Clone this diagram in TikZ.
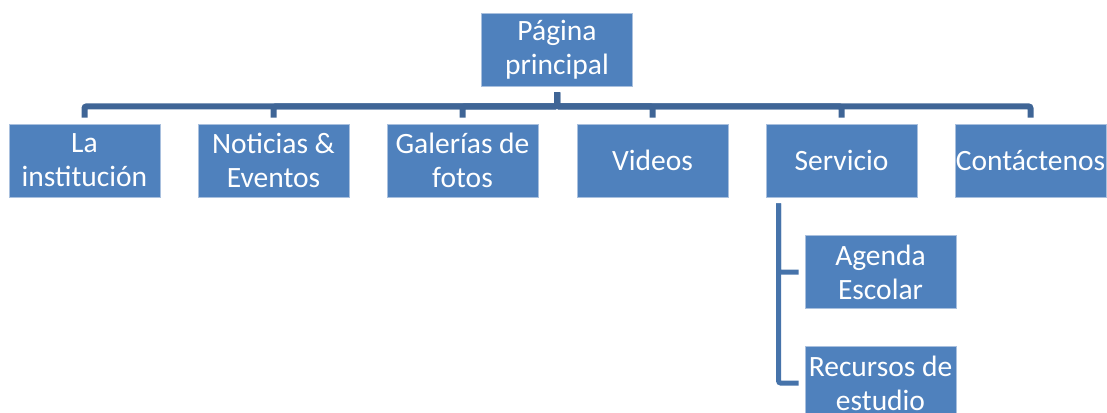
\documentclass[tikz,border=0pt]{standalone}
\usepackage{fontspec}
\setmainfont{Carlito}
\definecolor{boxblue}{HTML}{4F81BD}
\definecolor{boxline}{HTML}{A9C0DE}
\definecolor{busblue}{HTML}{3F6596}
\definecolor{subblue}{HTML}{4673AA}
\tikzset{
  pbox/.style={draw=boxline, line width=0.8pt, fill=boxblue, text=white,
    minimum width=151pt, minimum height=73pt, inner sep=0pt,
    align=center, font=\fontsize{29.5}{34}\selectfont},
  conn/.style={draw=busblue, line width=6pt, rounded corners=2pt,
    shorten <=6pt, shorten >=6pt},
  subconn/.style={draw=subblue, line width=5pt, rounded corners=2pt,
    shorten <=6pt, shorten >=6pt}
}
\begin{document}
\begin{tikzpicture}[x=1pt,y=-1pt]
\useasboundingbox (0,0) rectangle (1107,412);
\clip (0,0) rectangle (1107,412);
\node[pbox] (top) at (557,49.5) {Página\\principal};
\node[pbox] (c1) at (84.5,160.5) {La\\institución};
\node[pbox] (c2) at (273.5,160.5) {Noticias \&\\Eventos};
\node[pbox] (c3) at (462.5,160.5) {Galerías de\\fotos};
\node[pbox] (c4) at (652.5,160.5) {Videos};
\node[pbox] (c5) at (841.5,160.5) {Servicio};
\node[pbox] (c6) at (1030.5,160.5) {Contáctenos};
\node[pbox] (s1) at (880.5,272) {Agenda\\Escolar};
\node[pbox] (s2) at (880.5,383) {Recursos de\\estudio};
\foreach \c in {c1,c2,c3,c4,c5,c6}
  \draw[conn] (top.south) -- ++(0,20) -| (\c.north);
\draw[subconn] ([xshift=13pt]c5.south west) |- (s1.west);
\draw[subconn] ([xshift=13pt]c5.south west) |- (s2.west);
\end{tikzpicture}
\end{document}
